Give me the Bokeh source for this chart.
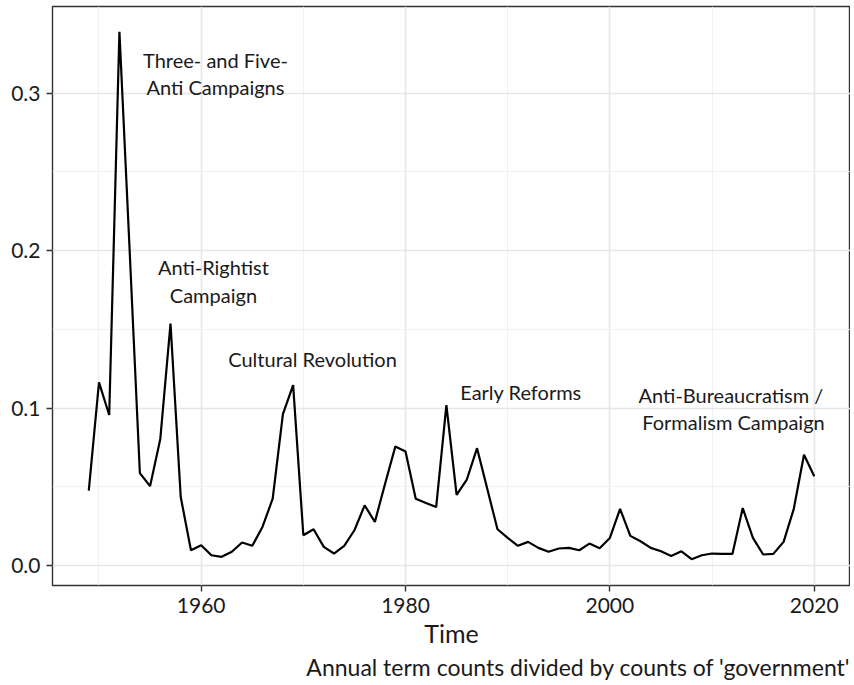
from bokeh.plotting import figure
from bokeh.models import Range1d, FixedTicker, NumeralTickFormatter, Title, ColumnDataSource
from bokeh.core.properties import value
from bokeh.embed import file_html
from bokeh.resources import INLINE

years = list(range(1949, 2021))
ratio = [0.0475, 0.1163, 0.0956, 0.339, 0.200, 0.0587, 0.0504, 0.0804, 0.1536, 0.0435,
         0.0097, 0.0129, 0.0065, 0.0055, 0.0087, 0.0146, 0.0125, 0.0245, 0.0424, 0.0962,
         0.1146, 0.0192, 0.0230, 0.0118, 0.0076, 0.0125, 0.0224, 0.0382, 0.0277, 0.0519,
         0.0755, 0.0724, 0.0424, 0.0397, 0.0371, 0.1019, 0.0449, 0.0546, 0.0745, 0.0487,
         0.0230, 0.0175, 0.0125, 0.0150, 0.0112, 0.0087, 0.0108, 0.0112, 0.0097, 0.0139,
         0.0110, 0.0175, 0.0360, 0.0188, 0.0154, 0.0112, 0.0090, 0.0061, 0.0090, 0.0040,
         0.0065, 0.0076, 0.0074, 0.0074, 0.0365, 0.0175, 0.0070, 0.0074, 0.0150, 0.0360,
         0.0703, 0.0567]

label_text = ["Three- and Five-\nAnti Campaigns", "Anti-Rightist\nCampaign", "Cultural Revolution",
              "Early Reforms", "Anti-Bureaucratism  /\nFormalism Campaign"]
label_year = [1961.4, 1961.2, 1970.9, 1991.3, 2012.1]
label_value = [0.3125, 0.1807, 0.131, 0.110, 0.0997]

x_ticks = [1960, 1980, 2000, 2020]
x_minor = [1950, 1970, 1990, 2010]
y_ticks = [0.0, 0.1, 0.2, 0.3]
y_minor = [0.05, 0.15, 0.25]

FONT = "Lato"
TXT = "#1a1a1a"

p = figure(width=850, height=680, output_backend="svg", toolbar_location=None,
           x_range=Range1d(1945.45, 2023.55), y_range=Range1d(-0.0127, 0.355),
           min_border_left=52, min_border_right=0, min_border_top=6, min_border_bottom=0)

p.background_fill_color = "white"
p.border_fill_color = "white"
p.outline_line_color = "#333333"
p.outline_line_width = 1.4

p.xaxis.ticker = FixedTicker(ticks=x_ticks, minor_ticks=x_minor)
p.yaxis.ticker = FixedTicker(ticks=y_ticks, minor_ticks=y_minor)
p.yaxis.formatter = NumeralTickFormatter(format="0.0")

for ax in (p.xaxis, p.yaxis):
    ax.axis_line_color = None
    ax.major_tick_line_color = "#333333"
    ax.major_tick_line_width = 1.4
    ax.major_tick_out = 6
    ax.major_tick_in = 0
    ax.minor_tick_line_color = None
    ax.major_label_text_font = FONT
    ax.major_label_text_font_size = "21px"
    ax.major_label_text_color = TXT
    ax.major_label_standoff = 6

p.xaxis.axis_label = "Time"
p.xaxis.axis_label_text_font = FONT
p.xaxis.axis_label_text_font_size = "25px"
p.xaxis.axis_label_text_font_style = "normal"
p.xaxis.axis_label_text_color = TXT
p.xaxis.axis_label_standoff = 2

p.grid.grid_line_color = "#e6e6e6"
p.grid.grid_line_width = 1.6
p.grid.minor_grid_line_color = "#efefef"
p.grid.minor_grid_line_width = 0.9

src = ColumnDataSource(dict(year=years, ratio=ratio))
p.line("year", "ratio", source=src, line_color="black", line_width=2.2)

lab = ColumnDataSource(dict(x=label_year, y=label_value, t=label_text))
p.text("x", "y", text="t", source=lab, text_align="center", text_baseline="middle",
       text_font=value(FONT), text_font_size="20px", text_color=TXT, text_line_height=1.13)

cap = Title(text="Annual term counts divided by counts of 'government'", align="right",
            text_font=FONT, text_font_size="23px", text_font_style="normal", text_color=TXT,
            offset=0, standoff=0)
p.add_layout(cap, "below")

open("out.html", "w").write(file_html(p, INLINE))
